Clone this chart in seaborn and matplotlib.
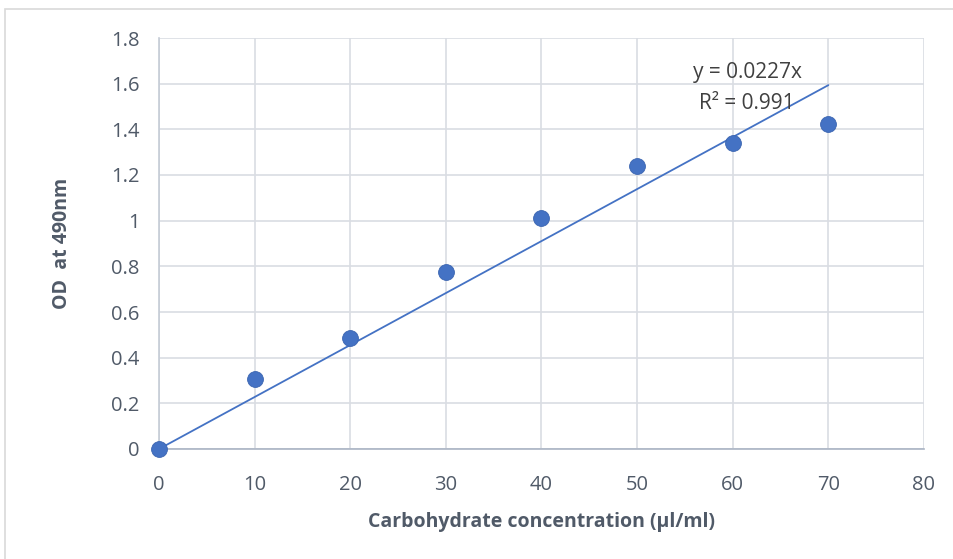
import numpy as np
import pandas as pd
import matplotlib.pyplot as plt
import seaborn as sns
from matplotlib.patches import Rectangle

# data
conc = [0, 10, 20, 30, 40, 50, 60, 70]
od = [0.0, 0.307, 0.486, 0.775, 1.012, 1.24, 1.342, 1.424]
eq_text = ['y = 0.0227x', 'R² = 0.991']

df = pd.DataFrame({'conc': conc, 'od': od})

sns.set_style("white")
plt.rcParams['font.family'] = ['Open Sans', 'DejaVu Sans']

fig = plt.figure(figsize=(9.54, 5.59), dpi=100)
ax = fig.add_axes([159 / 954, 1 - 449 / 559, (924 - 159) / 954, (449 - 38) / 559])

# outer chart border
fig.patches.append(Rectangle((5 / 954, -0.01), 1.0, 1 - 9 / 559 + 0.01, transform=fig.transFigure,
                             fill=False, edgecolor='#d9d9d9', linewidth=1.2))

text_col = '#505a68'
grid_col = '#d9dde3'

# linear trendline through origin (least squares)
x = np.array(conc, dtype=float)
y = np.array(od)
slope = (x * y).sum() / (x * x).sum()
ax.plot([x.min(), x.max()], [slope * x.min(), slope * x.max()], color='#4472C4', lw=1.3, zorder=3)

sns.scatterplot(data=df, x='conc', y='od', ax=ax, s=130, color='#4472C4',
                edgecolor='#3a64b0', linewidth=0.6, zorder=4, clip_on=False)

ax.set_xlim(0, 80)
ax.set_ylim(0, 1.8)
ax.set_xticks(range(0, 81, 10))
ax.set_yticks(np.arange(0, 1.81, 0.2))
ax.set_xticklabels([str(v) for v in range(0, 81, 10)])
ax.set_yticklabels(['0', '0.2', '0.4', '0.6', '0.8', '1', '1.2', '1.4', '1.6', '1.8'])
ax.grid(True, color=grid_col, lw=1.2)
ax.set_axisbelow(True)
for s in ['top', 'right']:
    ax.spines[s].set_visible(False)
ax.spines['left'].set_color('#c5ccd6')
ax.spines['bottom'].set_color('#aab4c3')
ax.spines['left'].set_linewidth(1.2)
ax.spines['bottom'].set_linewidth(1.2)
ax.tick_params(axis='both', length=0, labelsize=14.5, labelcolor=text_col)
ax.tick_params(axis='x', pad=19)
ax.tick_params(axis='y', pad=14)

ax.set_xlabel('Carbohydrate concentration (µl/ml)', fontsize=14, fontweight='bold', color=text_col, labelpad=12)
ax.set_ylabel('OD  at 490nm', fontsize=14, fontweight='bold', color=text_col, labelpad=28)

ax.text(61.5, 1.651, eq_text[0], fontsize=15, color='#404040', ha='center', va='center')
ax.text(61.5, 1.511, eq_text[1], fontsize=15, color='#404040', ha='center', va='center')

plt.savefig('out.png', dpi=100)
